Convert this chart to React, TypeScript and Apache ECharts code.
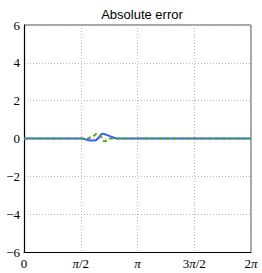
import React, { useEffect, useRef } from "react";
import * as echarts from "echarts";

const titleText = "Absolute error";
const xTickLabels = ["0", "{i|π}/2", "{i|π}", "3{i|π}/2", "2{i|π}"];
const yTickLabels = ["−6", "−4", "−2", "0", "2", "4", "6"];

const blueX = [0, 1.55, 1.605, 1.716, 1.827, 1.965, 2.048, 2.131, 2.187, 2.297, 2.436, 2.574, 6.2832];
const blueY = [0, 0, 0, -0.05, -0.1, -0.1, 0.0, 0.2, 0.25, 0.18, 0.08, 0, 0];

const greenX = [0, 1.771, 1.827, 1.91, 2.021, 2.104, 2.187, 2.242, 2.325, 2.408, 6.2832];
const greenY = [0, 0, 0.05, 0.1, 0.25, 0.2, -0.1, -0.15, -0.05, 0, 0];

export default function App() {
  const ref = useRef<HTMLDivElement>(null);
  useEffect(() => {
    if (!ref.current) return;
    const chart = echarts.init(ref.current, undefined, { renderer: "svg" });
    const serif = "'Liberation Serif', 'DejaVu Serif', serif";
    chart.setOption({
      animation: false,
      title: {
        text: titleText,
        left: 137,
        textAlign: "center",
        top: 3,
        textStyle: { fontFamily: "'Liberation Sans', sans-serif", fontSize: 13, fontWeight: "normal", color: "#000" },
      },
      grid: { left: 24, right: 11, top: 25, bottom: 21, containLabel: false, show: false },
      xAxis: {
        type: "value",
        min: 0,
        max: 2 * Math.PI,
        interval: Math.PI / 2,
        axisLine: { show: true, onZero: false, lineStyle: { color: "#000", width: 1.2 } },
        axisTick: { show: false },
        splitLine: { show: true, lineStyle: { color: "#bbb", type: [1, 2], width: 1 } },
        axisLabel: {
          fontFamily: serif,
          fontSize: 13,
          color: "#000",
          margin: 5,
          formatter: (v: number) => xTickLabels[Math.round(v / (Math.PI / 2))] ?? "",
          rich: { i: { fontFamily: serif, fontStyle: "italic", fontSize: 13, color: "#000" } },
        },
      },
      yAxis: {
        type: "value",
        min: -6,
        max: 6,
        interval: 2,
        axisLine: { show: true, onZero: false, lineStyle: { color: "#000", width: 1.2 } },
        axisTick: { show: false },
        splitLine: { show: true, lineStyle: { color: "#bbb", type: [1, 2], width: 1 } },
        axisLabel: {
          fontFamily: serif,
          fontSize: 13,
          color: "#000",
          margin: 4,
          formatter: (v: number) => yTickLabels[Math.round((v + 6) / 2)] ?? "",
        },
      },
      graphic: [
        { type: "line", shape: { x1: 24, y1: 25, x2: 251, y2: 25 }, style: { stroke: "#888", lineWidth: 1.5 } },
        { type: "line", shape: { x1: 251, y1: 25, x2: 251, y2: 252 }, style: { stroke: "#888", lineWidth: 1.5 } },
      ],
      series: [
        {
          type: "line",
          data: blueX.map((x, i) => [x, blueY[i]]),
          showSymbol: false,
          smooth: 0.3,
          lineStyle: { color: "#3a5cff", width: 2 },
          z: 2,
        },
        {
          type: "line",
          data: greenX.map((x, i) => [x, greenY[i]]),
          showSymbol: false,
          smooth: 0.3,
          lineStyle: { color: "#4aa830", width: 2, type: [4, 3] },
          z: 3,
        },
      ],
    });
    return () => chart.dispose();
  }, []);
  return <div ref={ref} style={{ width: 262, height: 273, position: "absolute", left: 0, top: 0 }} />;
}
